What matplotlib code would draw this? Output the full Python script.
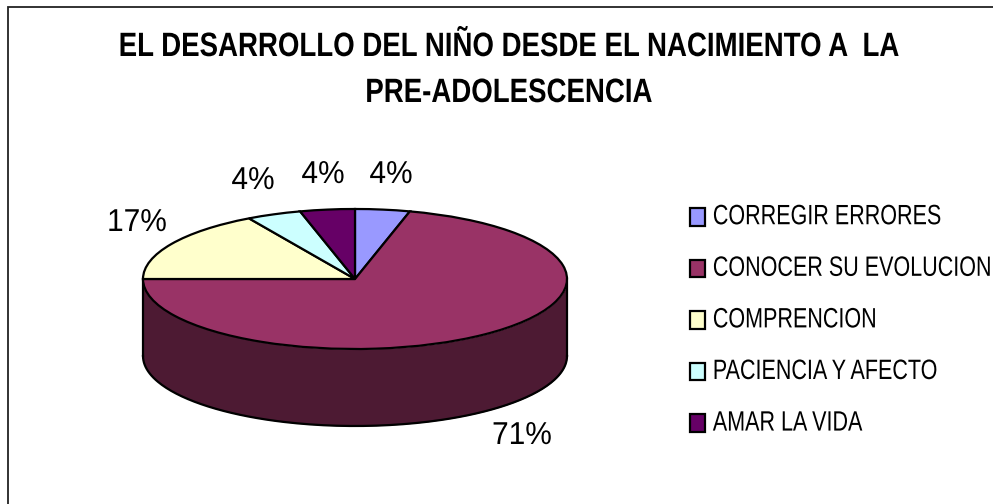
import numpy as np
import matplotlib
matplotlib.use("Agg")
import matplotlib.pyplot as plt
from matplotlib.patches import Rectangle
from matplotlib.patheffects import AbstractPathEffect
from matplotlib.transforms import Affine2D

categorias = ['CORREGIR ERRORES', 'CONOCER SU EVOLUCION', 'COMPRENCION', 'PACIENCIA Y AFECTO', 'AMAR LA VIDA']
valores = [1, 17, 4, 1, 1]
cores = ['#9999ff', '#993366', '#ffffcc', '#ccffff', '#660066']
cor_lateral = '#4d1a33'
titulo = 'EL DESARROLLO DEL NIÑO DESDE EL NACIMIENTO A  LA\nPRE-ADOLESCENCIA'

W, H = 993, 504
cx, cy = 355, 279
rx, ry = 212, 70
prof = 77


# o original tem letras espremidas: fonte menor e esticada na vertical
class EstiraY(AbstractPathEffect):
    def __init__(self, fator):
        super().__init__()
        self.fator = fator

    def draw_path(self, renderer, gc, tpath, affine, rgbFace=None):
        renderer.draw_path(gc, tpath, Affine2D().scale(1, self.fator) + affine, rgbFace)


plt.rcParams['font.family'] = ['Liberation Sans']

fig = plt.figure(figsize=(W / 100, H / 100), dpi=100, facecolor='white')
ax = fig.add_axes([0, 0, 1, 1])

fatias, _ = ax.pie(valores, startangle=90, counterclock=False, colors=cores,
                   wedgeprops={'edgecolor': 'black', 'linewidth': 1.6, 'zorder': 3})

# eixos em unidades do raio, achatados para dar a perspectiva
ax.set_aspect('auto')
ax.set_xlim(-cx / rx, (W - cx) / rx)
ax.set_ylim(-(H - cy) / ry, cy / ry)
ax.axis('off')

# lateral do cilindro
t = np.linspace(np.pi, 2 * np.pi, 200)
d = prof / ry
ax.fill_between(np.cos(t), np.sin(t), np.sin(t) - d, color=cor_lateral, lw=0, zorder=1)
ax.plot(np.cos(t), np.sin(t) - d, color='black', lw=1.6, zorder=2)
ax.plot([-1, -1], [0, -d], color='black', lw=1.6, zorder=2)
ax.plot([1, 1], [0, -d], color='black', lw=1.6, zorder=2)

# rotulos de porcentagem
total = sum(valores)
pos_rotulos = [(391, 175), (522, 436), (137, 223), (253, 181), (323, 175)]
for v, (px, py) in zip(valores, pos_rotulos):
    t_rot = fig.text(px / W, 1 - py / H, f'{v / total:.0%}', fontsize=21.5, ha='center', va='center')
    t_rot.set_path_effects([EstiraY(1.06)])

tit = fig.text(509 / W, 1 - 72 / H, titulo, fontsize=19.9, fontweight='bold', ha='center', va='center',
               linespacing=2.0)
tit.set_path_effects([EstiraY(1.22)])

leg = ax.legend(fatias, categorias, loc='upper left', bbox_to_anchor=(690 / W, 1 - 208 / H),
                bbox_transform=fig.transFigure, frameon=False, fontsize=15.5, labelspacing=1.41,
                handlelength=0.7, handleheight=0.88, handletextpad=0.36, borderpad=0, borderaxespad=0)
for txt in leg.get_texts():
    txt.set_path_effects([EstiraY(1.3)])

# moldura: direita e base ficam fora do recorte
fig.add_artist(Rectangle((8 / W, -0.1), 1.1, 1 - 7 / H + 0.1, transform=fig.transFigure,
                         fill=False, edgecolor='#222222', lw=1.3))

plt.savefig('out.png', dpi=100)
plt.close()
